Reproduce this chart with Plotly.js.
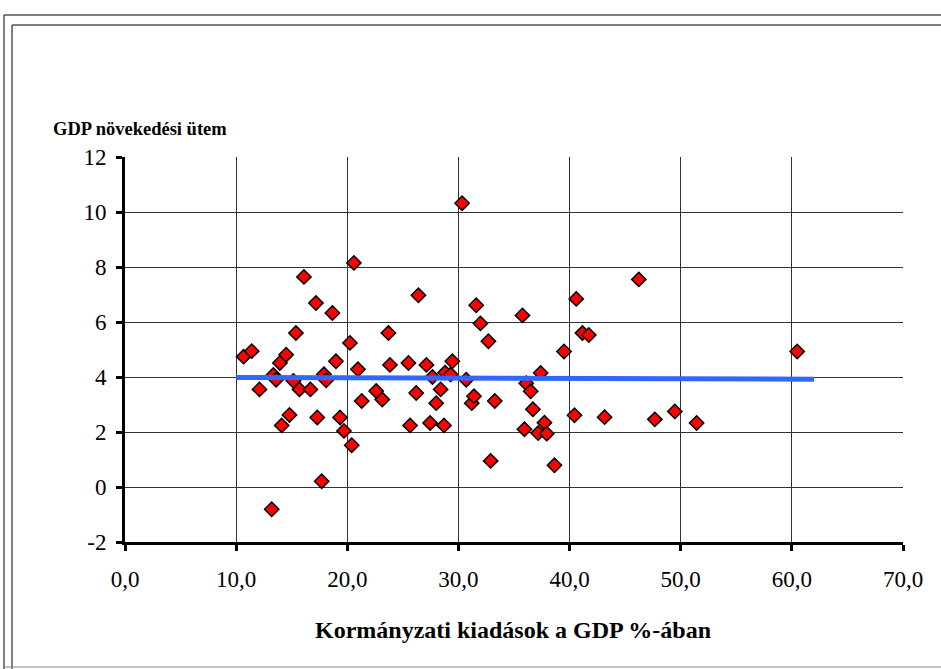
<!DOCTYPE html>
<html>
<head>
<meta charset="utf-8">
<script src="https://cdn.plot.ly/plotly-3.0.1.min.js"></script>
<style>
html,body{margin:0;padding:0;background:#fff;}
</style>
</head>
<body>
<div id="chart"></div>
<script>
// Government spending (% of GDP)
const spending = [10.67,11.4,12.1,13.2,13.35,13.6,13.94,14.1,14.5,14.8,15.15,15.38,15.7,16.1,16.68,17.18,17.3,17.7,17.9,18.1,18.66,18.98,19.35,19.7,20.24,20.4,20.6,20.96,21.3,22.6,23.15,23.7,23.84,25.5,25.65,26.2,26.4,27.12,27.45,27.66,28.0,28.4,28.7,28.8,29.3,29.45,30.33,30.7,31.2,31.4,31.6,31.98,32.7,32.9,33.27,35.76,35.94,36.1,36.5,36.7,37.17,37.4,37.74,37.95,38.64,39.5,40.44,40.6,41.16,41.73,43.15,46.23,47.67,49.47,51.43,60.48];
// GDP growth rate
const growth = [4.74,4.94,3.55,-0.81,4.07,3.9,4.51,2.24,4.81,2.62,3.86,5.6,3.55,7.64,3.55,6.69,2.53,0.21,4.1,3.88,6.33,4.57,2.53,2.04,5.24,1.52,8.15,4.28,3.13,3.49,3.18,5.6,4.44,4.51,2.24,3.42,6.97,4.44,2.33,4.0,3.05,3.55,2.24,4.16,4.09,4.57,10.32,3.9,3.05,3.3,6.61,5.95,5.3,0.95,3.13,6.24,2.1,3.77,3.48,2.83,1.96,4.15,2.34,1.94,0.79,4.93,2.61,6.84,5.6,5.53,2.54,7.55,2.46,2.75,2.33,4.93];
// Linear trend line endpoints
const trendX = [10.0, 62.0];
const trendY = [3.98, 3.92];
const xTicks = [0,10,20,30,40,50,60,70];
const xTickText = ["0,0","10,0","20,0","30,0","40,0","50,0","60,0","70,0"];
const yTicks = [-2,0,2,4,6,8,10,12];
const yTickText = ["-2","0","2","4","6","8","10","12"];
const yTitle = "GDP növekedési ütem";
const xTitle = "Kormányzati kiadások a GDP %-ában";

const FONT = "Liberation Serif";

// pixel helpers for frame placement (plot area: x 125..903, y 157..542)
const L = 125, R = 903, T = 157, B = 542;
const px = v => (v - L) / (R - L);
const py = v => (B - v) / (B - T);

const traces = [
  {
    x: spending, y: growth, type: 'scatter', mode: 'markers',
    marker: {symbol: 'diamond', size: 11, color: '#FF0000', line: {color: '#000000', width: 1.5}},
    hoverinfo: 'x+y', showlegend: false
  },
  {
    x: trendX, y: trendY, type: 'scatter', mode: 'lines',
    line: {color: '#3366FF', width: 5}, hoverinfo: 'skip', showlegend: false
  }
];

const layout = {
  width: 941, height: 669,
  margin: {l: L, r: 941 - R, t: T, b: 669 - B, pad: 0},
  paper_bgcolor: '#ffffff', plot_bgcolor: '#ffffff',
  font: {family: FONT, size: 22, color: '#000'},
  xaxis: {
    range: [0, 70], tickvals: xTicks, ticktext: xTickText,
    showgrid: true, gridcolor: '#333', gridwidth: 1,
    zeroline: false, showline: true, linecolor: '#000', linewidth: 3,
    ticks: 'outside', ticklen: 6, tickwidth: 3, tickcolor: '#000',
    ticklabelstandoff: 8,
    tickfont: {family: FONT, size: 23, color: '#000'},
    fixedrange: true
  },
  yaxis: {
    range: [-2, 12], tickvals: yTicks, ticktext: yTickText,
    showgrid: true, gridcolor: '#333', gridwidth: 1,
    zeroline: false, showline: true, linecolor: '#000', linewidth: 3,
    ticks: 'outside', ticklen: 6, tickwidth: 3, tickcolor: '#000',
    ticklabelstandoff: 5,
    tickfont: {family: FONT, size: 23, color: '#000'},
    fixedrange: true
  },
  annotations: [
    {text: '<b>' + yTitle + '</b>', xref: 'paper', yref: 'paper',
     x: px(51), y: py(129), xanchor: 'left', yanchor: 'middle', showarrow: false,
     font: {family: FONT, size: 18.5, color: '#000'}},
    {text: '<b>' + xTitle + '</b>', xref: 'paper', yref: 'paper',
     x: px(513), y: py(630), xanchor: 'center', yanchor: 'middle', showarrow: false,
     font: {family: FONT, size: 24, color: '#000'}}
  ],
  shapes: [
    {type: 'line', xref: 'paper', yref: 'paper', x0: px(4), x1: px(4), y0: py(15), y1: py(669), line: {color: '#000', width: 1}},
    {type: 'line', xref: 'paper', yref: 'paper', x0: px(4), x1: px(945), y0: py(15), y1: py(15), line: {color: '#000', width: 1}},
    {type: 'line', xref: 'paper', yref: 'paper', x0: px(12), x1: px(12), y0: py(25), y1: py(669), line: {color: '#000', width: 1}},
    {type: 'line', xref: 'paper', yref: 'paper', x0: px(12), x1: px(945), y0: py(25), y1: py(25), line: {color: '#000', width: 1}},
    {type: 'line', xref: 'paper', yref: 'paper', x0: px(4), x1: px(945), y0: py(667), y1: py(667), line: {color: '#888', width: 1}}
  ]
};

Plotly.newPlot('chart', traces, layout, {displayModeBar: false, staticPlot: true});
</script>
</body>
</html>
